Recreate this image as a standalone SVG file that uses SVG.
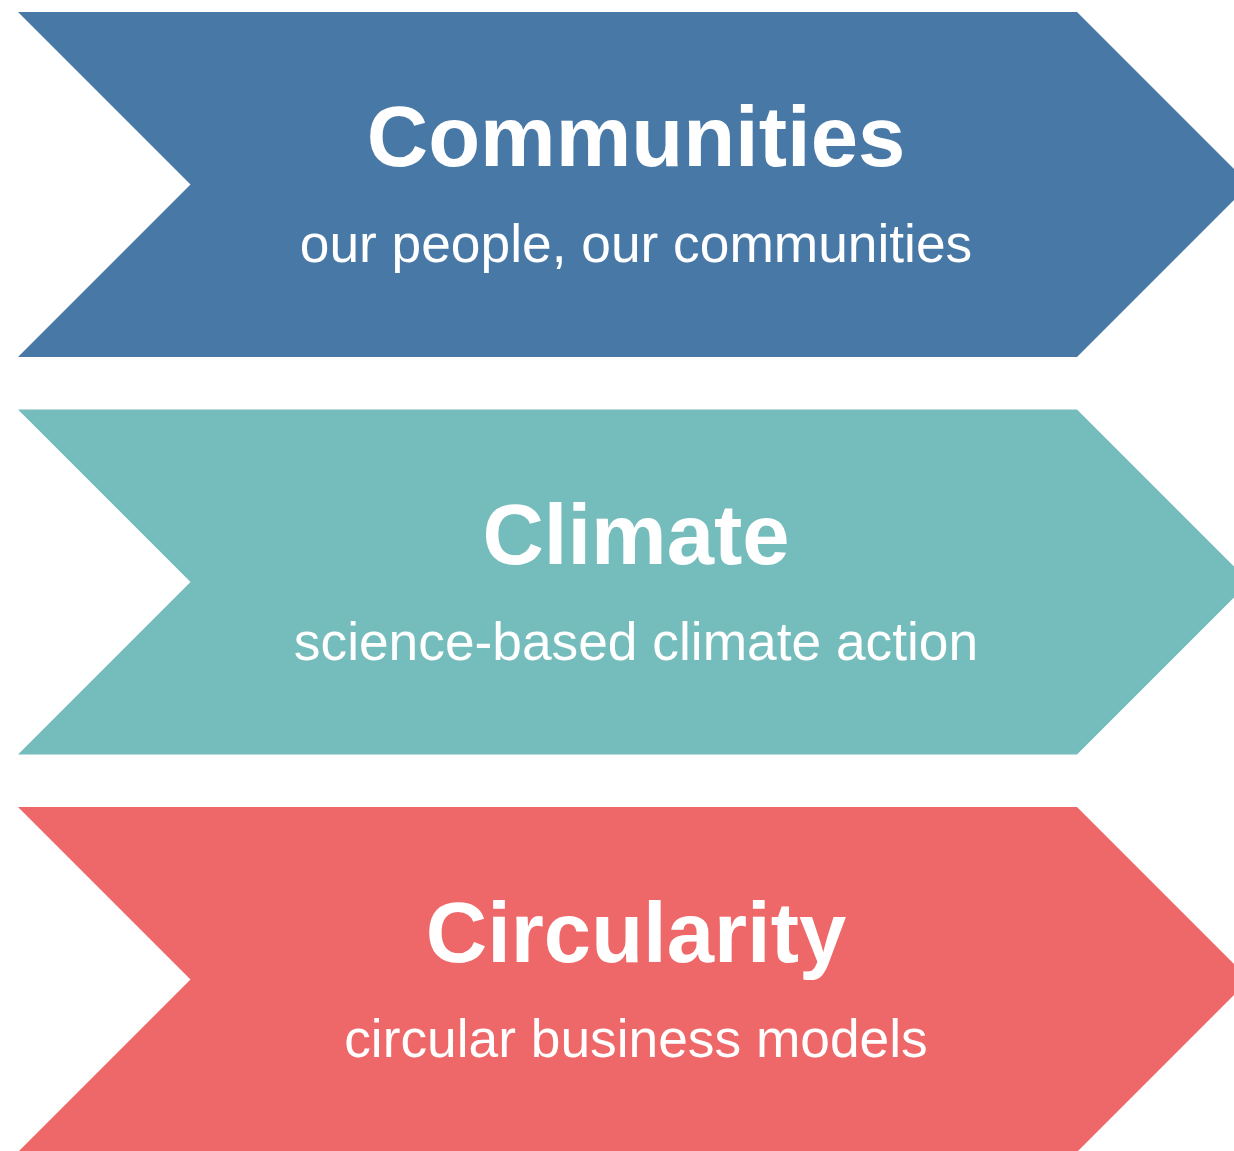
<svg xmlns="http://www.w3.org/2000/svg" width="1234" height="1151" viewBox="0 0 1234 1151">
<style>
.title{font-family:"Liberation Sans",Arial,sans-serif;font-weight:bold;font-size:85px;fill:#fff;text-anchor:middle}
.sub{font-family:"Liberation Sans",Arial,sans-serif;font-size:53.3px;fill:#fff;text-anchor:middle}
</style>
<defs>
<polygon id="chev" points="18,0 1077,0 1249.5,172.5 1077,345 18,345 190.5,172.5"/>
</defs>
<rect width="1234" height="1151" fill="#fff"/>
<g id="communities">
<use href="#chev" transform="translate(0,12)" fill="#4878A6"/>
<text class="title" x="636" y="166">Communities</text>
<text class="sub" x="636" y="262">our people, our communities</text>
</g>
<g id="climate">
<use href="#chev" transform="translate(0,409.5)" fill="#75BDBC"/>
<text class="title" x="636" y="564">Climate</text>
<text class="sub" x="636" y="660">science-based climate action</text>
</g>
<g id="circularity">
<use href="#chev" transform="translate(0,807)" fill="#EF6869"/>
<text class="title" x="636" y="962">Circularity</text>
<text class="sub" x="636" y="1057">circular business models</text>
</g>
<g id="connectors"/>
</svg>
